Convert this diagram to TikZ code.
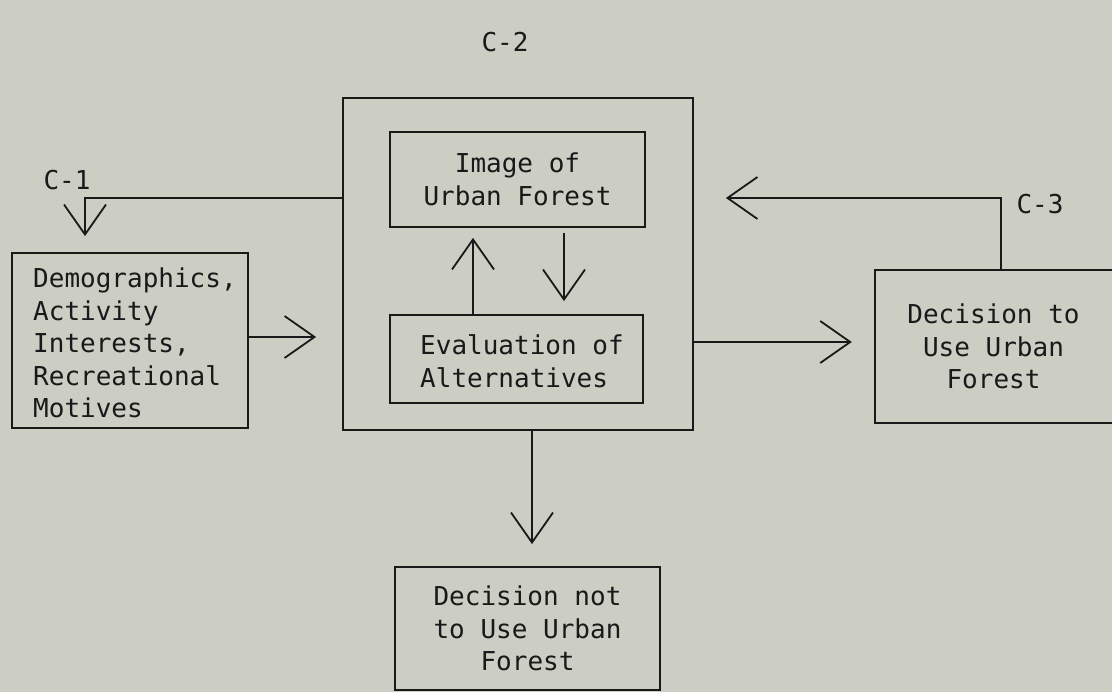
\documentclass[tikz,border=0pt]{standalone}
\usepackage{fontspec}
\setmonofont{DejaVu Sans Mono}
\usetikzlibrary{arrows.meta,calc}
\definecolor{paper}{RGB}{204,206,196}
\definecolor{ink}{RGB}{25,25,25}
\begin{document}
\begin{tikzpicture}[x=1pt,y=-1pt,
  every node/.style={font=\ttfamily\fontsize{26}{32.5}\selectfont, text=ink},
  box/.style={draw=ink, line width=1.8pt, rectangle, inner sep=0pt},
  bare/.style={rectangle, inner sep=0pt},
  arr/.style={draw=ink, line width=1.8pt, -{Straight Barb[length=30pt,width=42pt,line width=1.8pt]}},
  conn/.style={draw=ink, line width=1.8pt}]
\useasboundingbox (0,0) rectangle (1112,692);
\fill[paper] (0,0) rectangle (1112,692);

% boxes
\node[box, minimum width=236pt, minimum height=175pt] (demo) at (130,340.5) {};
\node[bare, align=left, anchor=west] (demotext) at (33,343)
  {Demographics,\\Activity\\Interests,\\Recreational\\Motives};
\node[box, minimum width=350pt, minimum height=332pt] (outer) at (518,264) {};
\node[box, minimum width=255pt, minimum height=95pt, align=center] (img) at (517.5,179.5)
  {Image of\\Urban Forest};
\node[box, minimum width=253pt, minimum height=88pt] (eval) at (516.5,359) {};
\node[bare, align=left, anchor=west] (evaltext) at (420,361)
  {Evaluation of\\Alternatives};
\node[bare, minimum width=237pt, minimum height=153pt, align=center] (dec) at (993.5,346.5)
  {Decision to\\Use Urban\\Forest};
\draw[conn] (dec.north east) -- (dec.north west) -- (dec.south west) -- (dec.south east);
\node[box, minimum width=265pt, minimum height=123pt, align=center] (notdec) at (527.5,628.5)
  {Decision not\\to Use Urban\\Forest};

% labels
\node[bare] (c2lab) at (505,42) {C-2};
\node[bare] (c1lab) at (67,180) {C-1};
\node[bare] (c3lab) at (1040,204) {C-3};

% connector points
\coordinate (c1) at (85,198);
\coordinate (c3) at (1001,198);
\coordinate (dn) at (532,0);
\coordinate (up) at (473,0);
\coordinate (dw) at (564,0);

% connectors
\draw[arr, shorten >=16pt] (outer.west |- c1) -- (c1) -- (demo.north -| c1);
\draw[arr, shorten >=26pt] (demo.east |- 0,337) -- (outer.west |- 0,337);
\draw[arr, shorten >=23pt] (outer.east |- 0,342) -- (dec.west |- 0,342);
\draw[arr, shorten >=32pt] (dec.north -| c3) -- (c3) -- (outer.east |- c3);
\draw[arr, shorten >=22pt] (outer.south -| dn) -- (notdec.north -| dn);
\draw[arr, shorten >=10pt] (eval.north -| up) -- (img.south -| up);
\draw[arr, shorten <=5pt, shorten >=13pt] (img.south -| dw) -- (eval.north -| dw);
\end{tikzpicture}
\end{document}
